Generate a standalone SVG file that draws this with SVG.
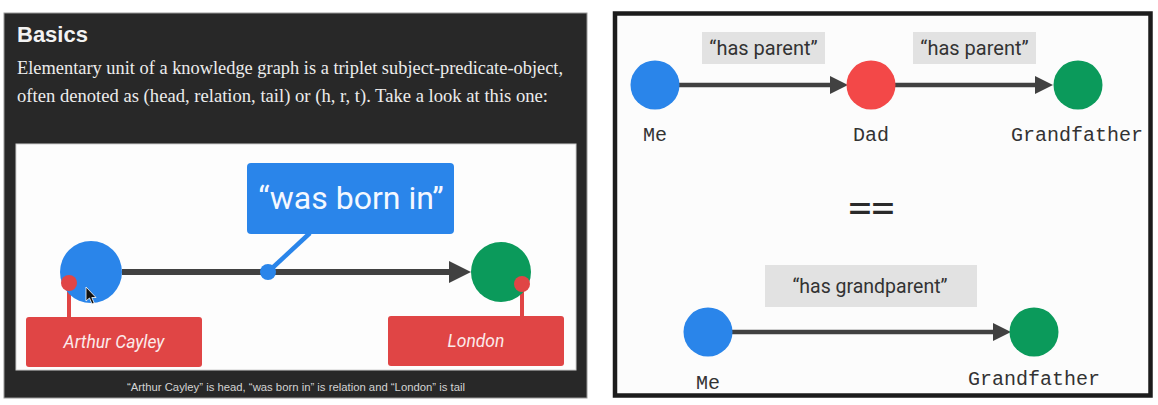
<svg xmlns="http://www.w3.org/2000/svg" width="1158" height="405" viewBox="0 0 1158 405">
<style>
.title{font-family:"Liberation Sans",Arial,sans-serif;font-weight:bold;font-size:22px;fill:#f2f2f2}
.para{font-family:"Liberation Serif","Times New Roman",serif;font-size:18.4px;fill:#ececec}
.cap{font-family:"Liberation Sans",Arial,sans-serif;font-size:10.5px;fill:#d4d4d4}
.rel{font-family:Roboto,"Liberation Sans",sans-serif;fill:#333}
.ent{font-family:Roboto,"Liberation Sans",sans-serif;font-style:italic;font-size:17.5px;fill:#fbeaea}
.mono{font-family:"Liberation Mono","DejaVu Sans Mono",monospace;font-size:20px;fill:#333}
.edge{stroke:#414141;fill:none}
.blue{fill:#2a85ea}
.green{fill:#0b9a5b}
.red{fill:#e04545}
.lbl{fill:#e2e2e2}
</style>
<defs>
<marker id="headL" markerUnits="userSpaceOnUse" markerWidth="22" markerHeight="22" refX="0" refY="11" orient="auto">
<path d="M0,0 L22,11 L0,22 Z" fill="#414141"/>
</marker>
<marker id="headS" markerUnits="userSpaceOnUse" markerWidth="18" markerHeight="18" refX="0" refY="9" orient="auto">
<path d="M0,0 L18,9 L0,18 Z" fill="#414141"/>
</marker>
</defs>
<rect width="1158" height="405" fill="#ffffff"/>
<!-- left panel -->
<g id="left-panel">
<rect x="4" y="13" width="583" height="385" fill="#282828" stroke="#9a9a9a" stroke-width="1"/>
<text class="title" x="17" y="42">Basics</text>
<text class="para" x="17" y="74" textLength="546" lengthAdjust="spacingAndGlyphs">Elementary unit of a knowledge graph is a triplet subject-predicate-object,</text>
<text class="para" x="17" y="102" textLength="531" lengthAdjust="spacingAndGlyphs">often denoted as (head, relation, tail) or (h, r, t). Take a look at this one:</text>
<rect x="16" y="144" width="560" height="226" fill="#fdfdfd" stroke="#cfcfcf" stroke-width="1"/>
<text class="cap" x="296" y="391" text-anchor="middle" textLength="338" lengthAdjust="spacingAndGlyphs">“Arthur Cayley” is head, “was born in” is relation and “London” is tail</text>
</g>
<!-- right panel -->
<g id="right-panel">
<rect x="615" y="13.5" width="535.5" height="382" fill="#fcfcfc" stroke="#1c1c1c" stroke-width="4.5"/>
</g>
<g id="connectors">
<line class="edge" x1="122" y1="272" x2="449" y2="272" stroke-width="6" marker-end="url(#headL)"/>
<line x1="310" y1="233" x2="268" y2="272" stroke="#2a85ea" stroke-width="4.5"/>
<line x1="69" y1="283" x2="69" y2="318" stroke="#e04545" stroke-width="4"/>
<line x1="522" y1="284" x2="522" y2="317" stroke="#e04545" stroke-width="4"/>
<line class="edge" x1="679" y1="85" x2="830" y2="85" stroke-width="4.5" marker-end="url(#headS)"/>
<line class="edge" x1="895" y1="85" x2="1035" y2="85" stroke-width="4.5" marker-end="url(#headS)"/>
<line class="edge" x1="732" y1="332" x2="993" y2="332" stroke-width="4.5" marker-end="url(#headS)"/>
</g>
<g id="relation-was-born-in">
<rect class="blue" x="247" y="163" width="207" height="71" rx="4"/>
<text x="351" y="209" text-anchor="middle" font-family="Roboto,'Liberation Sans',sans-serif" font-size="32" fill="#f4f8ff">“was born in”</text>
<circle class="blue" cx="268" cy="272" r="8"/>
</g>
<g id="node-head">
<circle class="blue" cx="91" cy="272" r="31"/>
</g>
<g id="node-tail">
<circle class="green" cx="501" cy="272" r="30"/>
</g>
<g id="label-arthur-cayley">
<circle class="red" cx="69" cy="283" r="8"/>
<rect class="red" x="26" y="317" width="176" height="50" rx="3"/>
<text class="ent" x="114" y="348" text-anchor="middle">Arthur Cayley</text>
</g>
<g id="label-london">
<circle class="red" cx="522" cy="284" r="8"/>
<rect class="red" x="388" y="316" width="176" height="50" rx="3"/>
<text class="ent" x="476" y="347" text-anchor="middle">London</text>
</g>
<g id="cursor">
<path d="M86,287 L86,301 L89.5,298 L92,304 L94.2,303 L91.8,297.5 L96,297.5 Z" fill="#111" stroke="#fff" stroke-width="0.8"/>
</g>
<g id="label-has-parent-1">
<rect class="lbl" x="702" y="32" width="123" height="32"/>
<text class="rel" x="763.5" y="55" text-anchor="middle" font-size="20">“has parent”</text>
</g>
<g id="label-has-parent-2">
<rect class="lbl" x="913" y="32" width="123" height="32"/>
<text class="rel" x="974.5" y="55" text-anchor="middle" font-size="20">“has parent”</text>
</g>
<g id="node-me-1">
<circle class="blue" cx="655" cy="85" r="24.5"/>
<text class="mono" x="655" y="141" text-anchor="middle">Me</text>
</g>
<g id="node-dad">
<circle cx="871" cy="85" r="24.5" fill="#f34848"/>
<text class="mono" x="871" y="141" text-anchor="middle">Dad</text>
</g>
<g id="node-grandfather-1">
<circle class="green" cx="1078" cy="85" r="24.5"/>
<text class="mono" x="1077" y="141" text-anchor="middle">Grandfather</text>
</g>
<g id="equals">
<text x="871.5" y="220" text-anchor="middle" font-family="'DejaVu Sans Mono',monospace" font-size="38" fill="#2a2a2a">==</text>
</g>
<g id="label-has-grandparent">
<rect class="lbl" x="765" y="265" width="212" height="42"/>
<text class="rel" x="870" y="293" text-anchor="middle" font-size="19.5">“has grandparent”</text>
</g>
<g id="node-me-2">
<circle class="blue" cx="708" cy="332" r="24.5"/>
<text class="mono" x="708" y="389" text-anchor="middle">Me</text>
</g>
<g id="node-grandfather-2">
<circle class="green" cx="1034" cy="332" r="24.5"/>
<text class="mono" x="1034" y="385" text-anchor="middle">Grandfather</text>
</g>
</svg>
